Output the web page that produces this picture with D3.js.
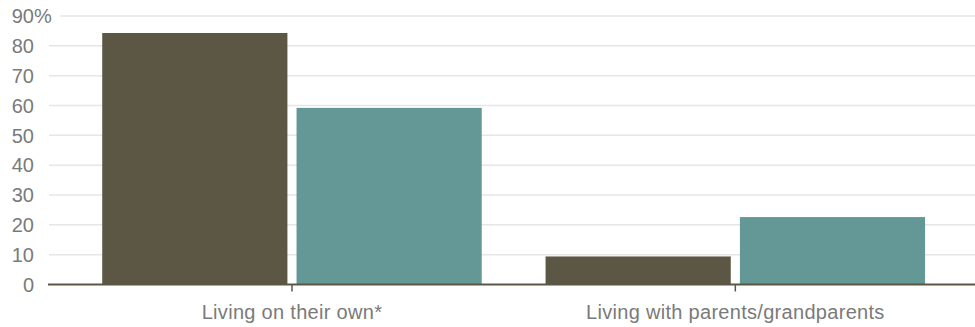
<!DOCTYPE html>
<html><head><meta charset="utf-8">
<script src="https://cdn.jsdelivr.net/npm/d3@7"></script>
<style>body{margin:0;background:#fff}svg{display:block}text{font-family:"Liberation Sans",Arial,Helvetica,sans-serif}</style>
</head><body><svg id="c" width="975" height="327"></svg>
<script>
const categories = ["Living on their own*", "Living with parents/grandparents"];
const seriesNames = ["Series A", "Series B"];
const seriesA = [84.3, 9.4];
const seriesB = [59.2, 22.6];
const yTicks = [0, 10, 20, 30, 40, 50, 60, 70, 80, 90];
const colors = ["#5b5744", "#639896"];

const svg = d3.select("#c");
const y = d3.scaleLinear().domain([0, 90]).range([284.5, 16]);
const x0 = d3.scaleBand().domain(categories).range([70.3, 957]).paddingInner(0.144).paddingOuter(0.072);
const x1 = d3.scaleBand().domain(seriesNames).range([0, x0.bandwidth()]).paddingInner(0.047);

// gridlines
svg.append("g").selectAll("line").data(yTicks.filter(d => d > 0)).join("line")
  .attr("x1", d => d === 90 ? 60 : 49).attr("x2", 975)
  .attr("y1", d => y(d)).attr("y2", d => y(d))
  .attr("stroke", "#e6e6e6").attr("stroke-width", 1.5);

// y labels
svg.append("g").selectAll("text").data(yTicks).join("text")
  .attr("x", 34).attr("y", d => y(d)).attr("dy", "0.36em")
  .attr("text-anchor", "start")
  .attr("fill", "#7a7a7a").attr("font-size", 20)
  .each(function(d){
    const t = d3.select(this);
    t.text(d);
    const w = this.getComputedTextLength();
    t.attr("x", 34 - w);
    if (d === 90) t.text(d + "%");
  });

// bars
const data = categories.map((c, i) => ({c, vals: [seriesA[i], seriesB[i]]}));
const g = svg.append("g").selectAll("g").data(data).join("g")
  .attr("transform", d => `translate(${x0(d.c)},0)`);
g.selectAll("rect").data(d => d.vals.map((v, j) => ({v, s: seriesNames[j], j}))).join("rect")
  .attr("x", d => x1(d.s)).attr("width", x1.bandwidth())
  .attr("y", d => y(d.v)).attr("height", d => y(0) - y(d.v))
  .attr("fill", d => colors[d.j]);

// x axis
const xAxis = d3.axisBottom(x0).tickSize(7).tickSizeOuter(0).tickPadding(13);
const ax = svg.append("g").attr("transform", `translate(0,${y(0)})`).call(xAxis);
ax.select(".domain").remove();
ax.selectAll(".tick line").attr("stroke", "#5b5744").attr("stroke-width", 1.5);
ax.selectAll(".tick text").attr("fill", "#7a7a7a").attr("font-size", 20)
  .attr("letter-spacing", "0.3px")
  .attr("font-family", "'Liberation Sans',Arial,sans-serif");
svg.append("line").attr("x1", 48).attr("x2", 975).attr("y1", y(0)).attr("y2", y(0))
  .attr("stroke", "#5b5744").attr("stroke-width", 2);
</script></body></html>
